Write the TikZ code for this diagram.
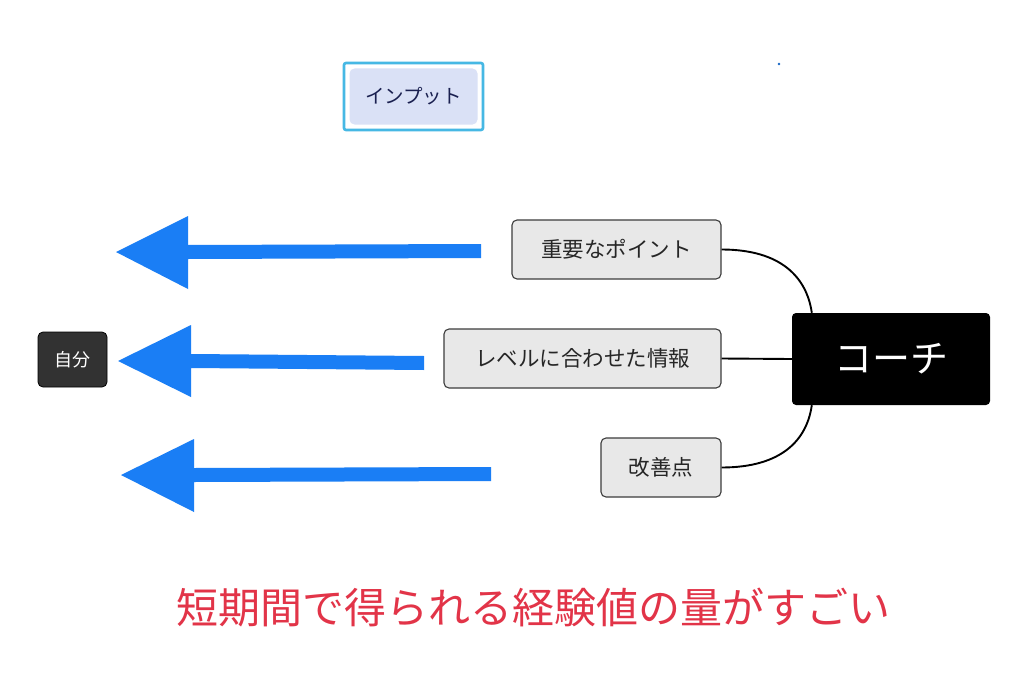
\documentclass[tikz,border=0pt]{standalone}
\usepackage{fontspec}
\setmainfont{Noto Sans CJK JP}
\usetikzlibrary{positioning,calc}
\definecolor{arrowblue}{RGB}{26,126,245}
\definecolor{titlered}{RGB}{226,52,72}
\definecolor{inborder}{RGB}{70,184,228}
\definecolor{infill}{RGB}{218,225,246}
\definecolor{innavy}{RGB}{26,32,80}
\definecolor{boxgray}{RGB}{232,232,232}
\definecolor{boxedge}{RGB}{60,60,60}
\definecolor{darkbox}{RGB}{50,50,50}
\tikzset{
  graybox/.style={draw=boxedge, line width=1.1pt, fill=boxgray, rounded corners=5pt,
    inner sep=0pt, minimum height=59pt, font=\fontsize{21.5}{26}\selectfont, text=black!85},
  conn/.style={draw=black, line width=1.9pt},
  bigarrow/.style={fill=arrowblue, draw=none},
}
\begin{document}
\begin{tikzpicture}[x=1pt,y=-1pt]
\useasboundingbox (0,0) rectangle (1024,682);
\fill[white] (0,0) rectangle (1024,682);

% input box
\node[draw=inborder, line width=2.6pt, rounded corners=2pt, minimum width=139pt, minimum height=67pt, inner sep=0pt] (inframe) at (413.5,96.5) {};
\node[fill=infill, rounded corners=5pt, minimum width=128pt, minimum height=56pt, inner sep=0pt,
  text=innavy, font=\fontsize{19.5}{24}\selectfont] (input) at (413.5,96.5) {インプット};
\fill[arrowblue!80!black] (779,64) circle (1.3pt);

% gray boxes
\node[graybox, minimum width=209pt] (p1) at (616.5,249.5) {重要なポイント};
\node[graybox, minimum width=277pt] (p2) at (582.5,358.5) {レベルに合わせた情報};
\node[graybox, minimum width=120pt] (p3) at (661,467.5) {改善点};

% coach
\node[fill=black, rounded corners=4pt, minimum width=198pt, minimum height=92pt, inner sep=0pt,
  text=white, font=\fontsize{38}{45}\selectfont] (coach) at (891,359) {コーチ};

% self
\node[fill=darkbox, draw=black, line width=0.8pt, rounded corners=5pt, minimum width=69pt, minimum height=55pt, inner sep=0pt,
  text=white, font=\fontsize{18}{22}\selectfont] (self) at (72.5,359.5) {自分};

% connectors
\coordinate (ctop) at ($(coach.north west)+(20,0)$);
\coordinate (cbot) at ($(coach.south west)+(20,0)$);
\draw[conn] (p1.east) .. controls +(60,0) and +(-5,-35) .. (ctop);
\draw[conn] (p2.east) -- (coach.west);
\draw[conn] (p3.east) .. controls +(60,0) and +(-5,35) .. (cbot);

% big arrows
\coordinate (a1s) at (481,251);
\coordinate (a1t) at (116,252);
\fill[bigarrow] (481,244) -- (188,245) -- (188,216) -- (116,252) -- (188,289) -- (188,259) -- (481,258) -- cycle;
\coordinate (a2s) at (424,363);
\coordinate (a2t) at (118,361);
\fill[bigarrow] (424,356) -- (191,354) -- (191,325) -- (118,361) -- (191,397) -- (191,368) -- (424,370) -- cycle;
\coordinate (a3s) at (491,474);
\coordinate (a3t) at (121,475);
\fill[bigarrow] (491,467) -- (194,468) -- (194,439) -- (121,475) -- (194,512) -- (194,482) -- (491,481) -- cycle;

% title
\node[text=titlered, font=\fontsize{42}{49}\selectfont, inner sep=0pt] (title) at (533,607) {短期間で得られる経験値の量がすごい};
\end{tikzpicture}
\end{document}
